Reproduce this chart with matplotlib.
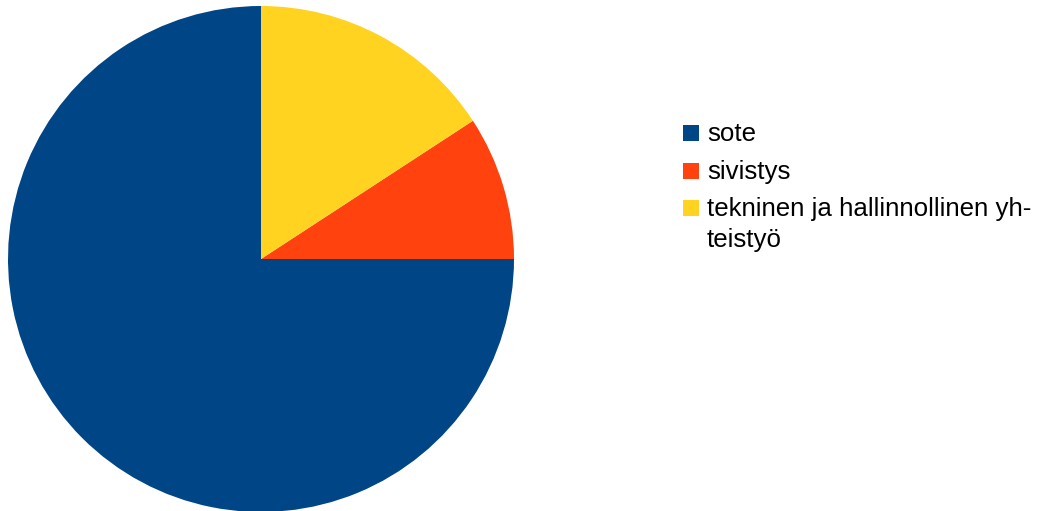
import matplotlib
matplotlib.use("Agg")
import matplotlib.pyplot as plt
from matplotlib.patches import Rectangle

labels = ["sote", "sivistys", "tekninen ja hallinnollinen yh-\nteistyö"]
values = [75.0, 9.2, 15.8]
colors = ["#004586", "#ff420e", "#ffd320"]

W, H = 1039, 511
fig = plt.figure(figsize=(W / 100, H / 100), dpi=100)
cx, cy, r = 261, 259, 253
ax = fig.add_axes([(cx - r) / W, (H - cy - r) / H, 2 * r / W, 2 * r / H])
ax.pie(values, colors=colors, startangle=90, counterclock=True, radius=1,
       wedgeprops=dict(linewidth=0))
ax.set_xlim(-1, 1)
ax.set_ylim(-1, 1)
ax.set_aspect("equal")
ax.axis("off")

# legend drawn manually (pixel positions, top-down)
baselines = [141, 179, 216]
line_step = 31
for lab, col, yb in zip(labels, colors, baselines):
    fig.patches.append(Rectangle((683 / W, (H - yb + 0) / H), 16 / W, 16 / H,
                                 transform=fig.transFigure, facecolor=col,
                                 edgecolor="none"))
    for i, line in enumerate(lab.split("\n")):
        fig.text(707 / W, (H - yb - i * line_step) / H, line, fontsize=18.6,
                 family="Liberation Sans", va="baseline", ha="left")

fig.savefig("out.png", dpi=100)
